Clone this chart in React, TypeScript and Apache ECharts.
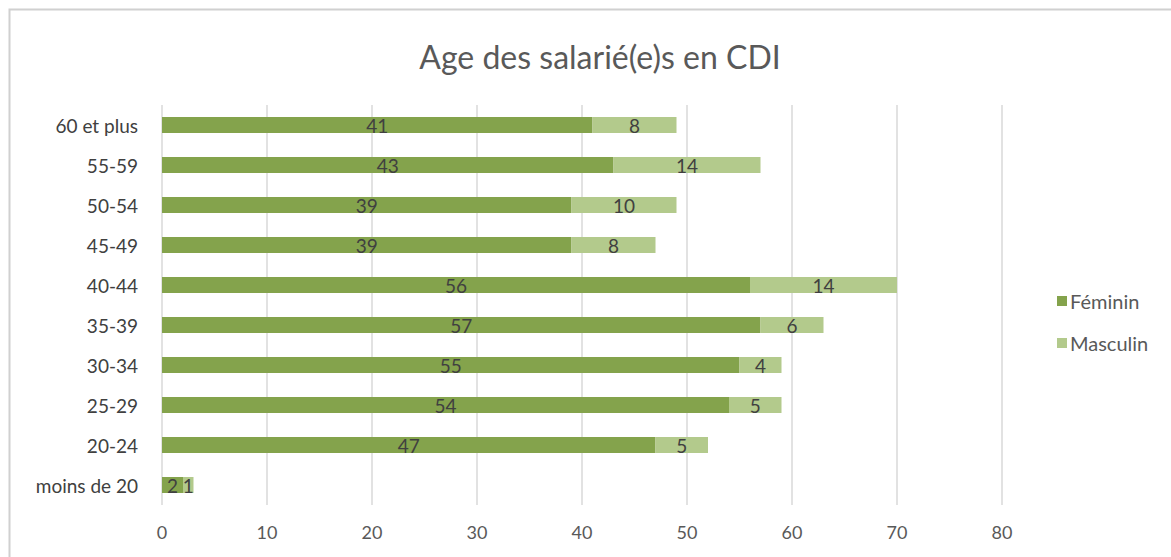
import React, { useEffect, useRef } from "react";
import * as echarts from "echarts";

const categories = ["moins de 20", "20-24", "25-29", "30-34", "35-39", "40-44", "45-49", "50-54", "55-59", "60 et plus"];
const feminin = [2, 47, 54, 55, 57, 56, 39, 39, 43, 41];
const masculin = [1, 5, 5, 4, 6, 14, 8, 10, 14, 8];
const xTicks = { min: 0, max: 80, interval: 10 };

const FONT = "Lato, 'Open Sans', sans-serif";

export default function App() {
  const ref = useRef<HTMLDivElement>(null);
  useEffect(() => {
    if (!ref.current) return;
    const chart = echarts.init(ref.current, null, { renderer: "svg" });
    const labelStyle = {
      show: true,
      position: "inside" as const,
      color: "#404040",
      fontSize: 19,
      fontFamily: FONT,
      padding: [3, 0, 0, 0],
    };
    chart.setOption({
      animation: false,
      backgroundColor: "#ffffff",
      textStyle: { fontFamily: FONT },
      title: {
        text: "Age des salarié(e)s en CDI",
        left: 595,
        textAlign: "center",
        top: 35,
        textStyle: { fontSize: 32, fontWeight: "normal", color: "#595959", fontFamily: FONT },
      },
      legend: {
        orient: "vertical",
        left: 1052,
        top: 286,
        itemWidth: 10,
        itemHeight: 10,
        itemGap: 22,
        icon: "rect",
        textStyle: { fontSize: 20, color: "#595959", fontFamily: FONT, padding: [0, 0, 0, -2] },
        data: ["Féminin", "Masculin"],
      },
      grid: { left: 162, top: 105, width: 840, height: 400, containLabel: false },
      xAxis: {
        type: "value",
        min: xTicks.min,
        max: xTicks.max,
        interval: xTicks.interval,
        axisLine: { show: false },
        axisTick: { show: false },
        splitLine: { show: true, lineStyle: { color: "#d9d9d9", width: 1.5 } },
        axisLabel: { color: "#595959", fontSize: 18, margin: 18, fontFamily: FONT },
      },
      yAxis: {
        type: "category",
        data: categories,
        axisLine: { show: false },
        axisTick: { show: false },
        axisLabel: { color: "#404040", fontSize: 19, margin: 24, fontFamily: FONT },
      },
      series: [
        {
          name: "Féminin",
          type: "bar",
          stack: "total",
          barWidth: 16,
          data: feminin,
          itemStyle: { color: "#84a34c" },
          label: labelStyle,
        },
        {
          name: "Masculin",
          type: "bar",
          stack: "total",
          barWidth: 16,
          data: masculin,
          itemStyle: { color: "#b3ca8c" },
          label: labelStyle,
        },
      ],
      graphic: [
        {
          type: "rect",
          shape: { x: 9.5, y: 9.5, width: 1180, height: 570 },
          style: { fill: "none", stroke: "#d0d0d0", lineWidth: 2 },
          silent: true,
        },
      ],
    });
    return () => chart.dispose();
  }, []);
  return (
    <div
      ref={ref}
      style={{ position: "fixed", left: 0, top: 0, width: 1171, height: 557 }}
    />
  );
}
